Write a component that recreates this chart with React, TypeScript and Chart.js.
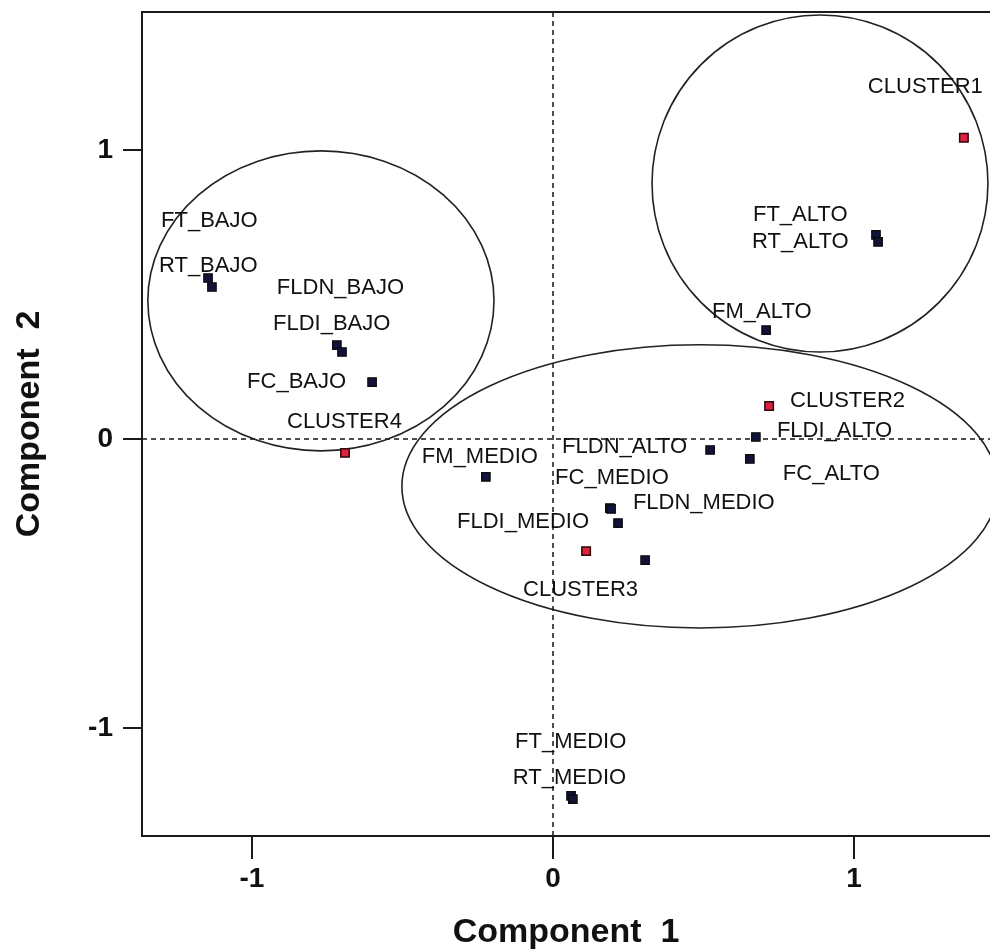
import React, { useEffect, useRef } from "react";
import { Chart, registerables } from "chart.js";

Chart.register(...registerables);

// ---- data ----
const pointNames = [
  "FT_BAJO", "RT_BAJO", "FLDN_BAJO", "FLDI_BAJO", "FC_BAJO", "FM_BAJO",
  "FT_MEDIO", "RT_MEDIO", "FLDN_MEDIO", "FLDI_MEDIO", "FC_MEDIO", "FM_MEDIO",
  "FT_ALTO", "RT_ALTO", "FLDN_ALTO", "FLDI_ALTO", "FC_ALTO", "FM_ALTO",
];
const pointComp1 = [
  -1.146, -1.133, -0.718, -0.701, -0.601, 0.306,
  0.060, 0.066, 0.189, 0.216, 0.193, -0.223,
  1.073, 1.080, 0.522, 0.674, 0.654, 0.708,
];
const pointComp2 = [
  0.557, 0.526, 0.325, 0.301, 0.197, -0.419,
  -1.235, -1.246, -0.239, -0.291, -0.242, -0.131,
  0.706, 0.682, -0.038, 0.007, -0.069, 0.377,
];
// FM_BAJO has no visible label in the original figure
const hiddenLabels = ["FM_BAJO"];

const clusterNames = ["CLUSTER1", "CLUSTER2", "CLUSTER3", "CLUSTER4"];
const clusterComp1 = [1.365, 0.718, 0.110, -0.691];
const clusterComp2 = [1.042, 0.114, -0.388, -0.048];

const xTickValues = [-1, 0, 1];
const yTickValues = [-1, 0, 1];

// group ellipses (centre and radii in component units)
const ellipseC1 = [-0.771, 0.887, 0.488];
const ellipseC2 = [0.478, 0.884, -0.164];
const ellipseR1 = [0.575, 0.558, 0.990];
const ellipseR2 = [0.519, 0.583, 0.490];

// ---- layout (label placement relative to its point, in px) ----
const labelOffsets: Record<string, [number, number]> = {
  FT_BAJO: [-47, -57],
  RT_BAJO: [-53, -21],
  FLDN_BAJO: [-60, -57],
  FLDI_BAJO: [-69, -28],
  FC_BAJO: [-125, 0],
  FT_MEDIO: [-56, -54],
  RT_MEDIO: [-60, -21],
  FLDN_MEDIO: [23, -5],
  FLDI_MEDIO: [-161, -1],
  FC_MEDIO: [-56, -31],
  FM_MEDIO: [-64, -20],
  FT_ALTO: [-123, -20],
  RT_ALTO: [-126, 0],
  FLDN_ALTO: [-148, -3],
  FLDI_ALTO: [21, -6],
  FC_ALTO: [33, 15],
  FM_ALTO: [-54, -18],
  CLUSTER1: [-96, -51],
  CLUSTER2: [21, -5],
  CLUSTER3: [-63, 39],
  CLUSTER4: [-58, -31],
};

const FONT = '"Liberation Sans", Arial, Helvetica, sans-serif';

const overlayPlugin = {
  id: "overlay",
  beforeDatasetsDraw(chart: any) {
    const { ctx, chartArea: a, scales } = chart;
    const x = scales.x;
    const y = scales.y;
    ctx.save();
    ctx.beginPath();
    ctx.rect(a.left, a.top, a.right - a.left, a.bottom - a.top);
    ctx.clip();
    // zero reference lines
    const x0 = x.getPixelForValue(0);
    const y0 = y.getPixelForValue(0);
    ctx.strokeStyle = "#151515";
    ctx.lineWidth = 1.5;
    ctx.setLineDash([5, 4]);
    ctx.beginPath();
    ctx.moveTo(x0, a.top);
    ctx.lineTo(x0, a.bottom);
    ctx.stroke();
    ctx.beginPath();
    ctx.moveTo(a.left, y0);
    ctx.lineTo(a.right, y0);
    ctx.stroke();
    ctx.setLineDash([]);
    // ellipses
    ctx.strokeStyle = "#222";
    ctx.lineWidth = 1.6;
    for (let i = 0; i < ellipseC1.length; i++) {
      const cx = x.getPixelForValue(ellipseC1[i]);
      const cy = y.getPixelForValue(ellipseC2[i]);
      const rx = Math.abs(x.getPixelForValue(ellipseC1[i] + ellipseR1[i]) - cx);
      const ry = Math.abs(y.getPixelForValue(ellipseC2[i] + ellipseR2[i]) - cy);
      ctx.beginPath();
      ctx.ellipse(cx, cy, rx, ry, 0, 0, Math.PI * 2);
      ctx.stroke();
    }
    ctx.restore();
  },
  afterDatasetsDraw(chart: any) {
    const { ctx, scales } = chart;
    const x = scales.x;
    const y = scales.y;
    ctx.save();
    ctx.font = `22px ${FONT}`;
    ctx.textAlign = "left";
    ctx.textBaseline = "middle";
    ctx.fillStyle = "#111";
    const draw = (name: string, v1: number, v2: number) => {
      if (hiddenLabels.includes(name)) return;
      const off = labelOffsets[name] || [8, 0];
      const px = x.getPixelForValue(v1);
      const py = y.getPixelForValue(v2);
      ctx.fillText(name, px + off[0], py + off[1]);
    };
    pointNames.forEach((n, i) => draw(n, pointComp1[i], pointComp2[i]));
    clusterNames.forEach((n, i) => draw(n, clusterComp1[i], clusterComp2[i]));
    ctx.restore();
  },
  afterDraw(chart: any) {
    const { ctx, chartArea: a } = chart;
    ctx.save();
    ctx.strokeStyle = "#1a1a1a";
    ctx.lineWidth = 2;
    ctx.beginPath();
    ctx.moveTo(a.left - 1, a.top);
    ctx.lineTo(a.right, a.top);
    ctx.stroke();
    ctx.restore();
  },
};

export default function App() {
  const ref = useRef<HTMLCanvasElement | null>(null);

  useEffect(() => {
    if (!ref.current) return;
    const chart = new Chart(ref.current, {
      type: "scatter",
      data: {
        datasets: [
          {
            label: "variables",
            data: pointNames.map((_, i) => ({ x: pointComp1[i], y: pointComp2[i] })),
            pointStyle: "rect",
            pointRadius: 6,
            backgroundColor: "#12123a",
            borderColor: "#0a0a0a",
            borderWidth: 1.2,
          },
          {
            label: "clusters",
            data: clusterNames.map((_, i) => ({ x: clusterComp1[i], y: clusterComp2[i] })),
            pointStyle: "rect",
            pointRadius: 6,
            backgroundColor: "#e0203c",
            borderColor: "#2a0a0a",
            borderWidth: 1.5,
          },
        ],
      },
      options: {
        responsive: false,
        animation: false,
        layout: { autoPadding: false, padding: { top: 12, left: 0, right: 0, bottom: 0 } },
        plugins: {
          legend: { display: false },
          tooltip: { enabled: false },
        },
        scales: {
          x: {
            type: "linear",
            position: "bottom",
            min: -1.3654,
            max: 1.4518,
            afterBuildTicks: (s: any) => {
              s.ticks = xTickValues.map((v) => ({ value: v }));
            },
            afterFit: (s: any) => {
              s.height = 116;
              s.paddingLeft = 0;
              s.paddingRight = 0;
            },
            ticks: {
              autoSkip: false,
              includeBounds: false,
              padding: 3,
              color: "#111",
              font: { family: FONT, size: 28, weight: "bold" },
              callback: (v: any) => String(v),
            },
            grid: {
              drawOnChartArea: false,
              drawTicks: true,
              tickLength: 23,
              color: "#1a1a1a",
              lineWidth: 2,
            },
            border: { display: true, color: "#1a1a1a", width: 2 },
            title: {
              display: true,
              text: "Component  1",
              color: "#111",
              font: { family: FONT, size: 34, weight: "bold" },
              padding: { top: 0, bottom: -1 },
            },
          },
          y: {
            type: "linear",
            position: "left",
            min: -1.3737,
            max: 1.4775,
            afterBuildTicks: (s: any) => {
              s.ticks = yTickValues.map((v) => ({ value: v }));
            },
            afterFit: (s: any) => {
              s.width = 142;
              s.paddingTop = 0;
              s.paddingBottom = 0;
            },
            ticks: {
              autoSkip: false,
              includeBounds: false,
              padding: 10,
              color: "#111",
              font: { family: FONT, size: 28, weight: "bold" },
              callback: (v: any) => String(v),
            },
            grid: {
              drawOnChartArea: false,
              drawTicks: true,
              tickLength: 19,
              color: "#1a1a1a",
              lineWidth: 2,
            },
            border: { display: true, color: "#1a1a1a", width: 2 },
            title: {
              display: true,
              text: "Component  2",
              color: "#111",
              font: { family: FONT, size: 34, weight: "bold" },
              padding: { top: 9, bottom: 0 },
            },
          },
        },
      },
      plugins: [overlayPlugin],
    } as any);
    return () => chart.destroy();
  }, []);

  return (
    <div style={{ position: "absolute", left: 0, top: 0, width: 990, height: 952, background: "#fff" }}>
      <canvas ref={ref} width={990} height={952} style={{ display: "block" }} />
    </div>
  );
}
